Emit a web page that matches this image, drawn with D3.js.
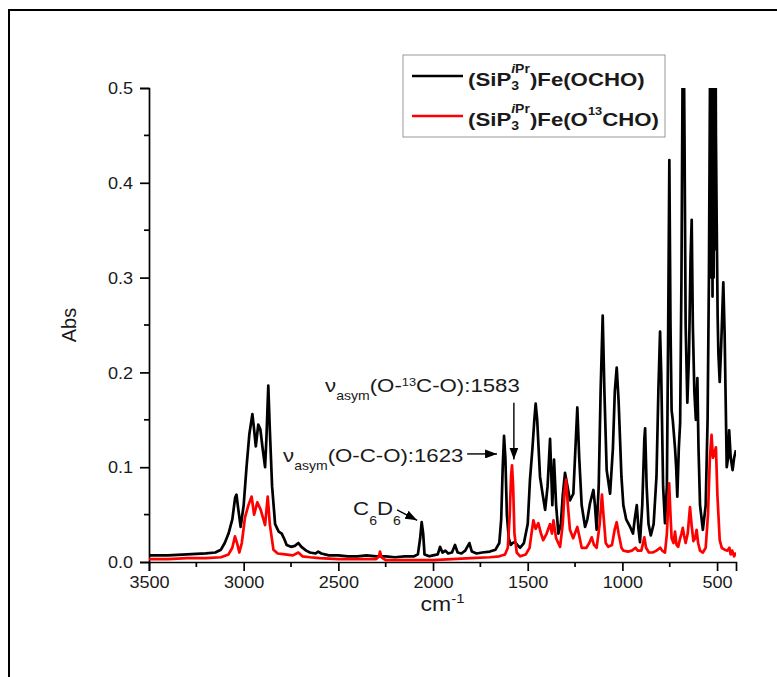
<!DOCTYPE html>
<html>
<head>
<meta charset="utf-8">
<script src="https://cdn.jsdelivr.net/npm/d3@7"></script>
<style>
  body { margin: 0; background: #fff; }
  svg text { font-family: Arial, "Liberation Sans", sans-serif; fill: #1a1a1a; }
</style>
</head>
<body>
<svg id="chart" width="777" height="677"></svg>
<script>
// tick values
var wnTicks = [3500, 3000, 2500, 2000, 1500, 1000, 500];
var wnMinor = [3250, 2750, 2250, 1750, 1250, 750];
var absTicks = [0, 0.1, 0.2, 0.3, 0.4, 0.5];
var absMinor = [0.05, 0.15, 0.25, 0.35, 0.45];

// (SiP3iPr)Fe(OCHO): [wavenumber, absorbance]
var ochoSpectrum = [
  [3500,0.007],[3400,0.007],[3300,0.008],[3200,0.009],[3150,0.010],[3120,0.013],[3100,0.020],
  [3080,0.030],[3060,0.045],[3045,0.068],[3038,0.071],[3030,0.058],[3016,0.037],[3000,0.060],
  [2985,0.100],[2970,0.135],[2954,0.156],[2945,0.140],[2936,0.122],[2923,0.145],[2912,0.140],
  [2900,0.120],[2887,0.100],[2880,0.130],[2870,0.186],[2862,0.140],[2850,0.080],[2834,0.040],
  [2815,0.032],[2799,0.030],[2785,0.024],[2773,0.018],[2750,0.016],[2730,0.017],[2711,0.020],
  [2695,0.016],[2670,0.012],[2650,0.010],[2620,0.009],[2607,0.011],[2590,0.009],[2550,0.007],
  [2500,0.007],[2450,0.006],[2400,0.006],[2350,0.007],[2300,0.006],[2250,0.006],[2200,0.005],
  [2150,0.006],[2100,0.006],[2080,0.008],[2068,0.025],[2060,0.042],[2052,0.030],[2045,0.008],
  [2020,0.006],[2000,0.007],[1975,0.008],[1963,0.016],[1950,0.010],[1935,0.012],[1920,0.009],
  [1900,0.010],[1884,0.018],[1870,0.010],[1850,0.009],[1830,0.012],[1808,0.020],[1795,0.011],
  [1770,0.009],[1740,0.010],[1700,0.011],[1670,0.013],[1650,0.020],[1640,0.045],[1632,0.100],
  [1625,0.133],[1618,0.110],[1610,0.050],[1600,0.025],[1590,0.018],[1580,0.020],[1567,0.021],
  [1555,0.018],[1540,0.015],[1520,0.020],[1500,0.040],[1488,0.087],[1475,0.120],[1465,0.150],
  [1458,0.167],[1450,0.150],[1435,0.090],[1420,0.070],[1408,0.055],[1395,0.080],[1382,0.130],
  [1375,0.090],[1370,0.060],[1361,0.108],[1350,0.060],[1338,0.030],[1325,0.040],[1315,0.070],
  [1303,0.094],[1290,0.080],[1277,0.065],[1259,0.072],[1248,0.120],[1238,0.163],[1228,0.110],
  [1215,0.060],[1197,0.037],[1185,0.045],[1171,0.062],[1153,0.076],[1145,0.060],[1136,0.034],
  [1125,0.080],[1115,0.180],[1104,0.260],[1095,0.180],[1083,0.097],[1065,0.072],[1050,0.120],
  [1040,0.180],[1030,0.205],[1020,0.170],[1005,0.090],[995,0.060],[980,0.045],[959,0.037],
  [944,0.030],[935,0.045],[924,0.060],[915,0.035],[907,0.021],[895,0.060],[884,0.130],
  [880,0.141],[872,0.080],[862,0.040],[850,0.028],[835,0.040],[820,0.090],[810,0.180],
  [801,0.243],[795,0.200],[785,0.080],[775,0.041],[765,0.080],[758,0.250],[752,0.424],
  [746,0.250],[740,0.160],[734,0.150],[722,0.120],[716,0.100],[710,0.069],[702,0.120],
  [695,0.147],[688,0.300],[682,0.520],[678,0.600],[672,0.450],[666,0.250],[657,0.168],
  [648,0.220],[640,0.320],[634,0.361],[628,0.250],[620,0.180],[612,0.150],[604,0.194],
  [598,0.120],[590,0.060],[575,0.034],[560,0.060],[550,0.150],[543,0.300],[537,0.520],
  [533,0.620],[530,0.300],[527,0.600],[524,0.280],[521,0.620],[518,0.300],[515,0.620],
  [512,0.330],[509,0.600],[506,0.450],[502,0.360],[497,0.260],[493,0.220],[486,0.190],
  [478,0.230],[467,0.295],[460,0.240],[449,0.100],[442,0.110],[436,0.139],[428,0.110],
  [418,0.097],[410,0.110],[400,0.118]
];

// (SiP3iPr)Fe(O13CHO)
var o13Spectrum = [
  [3500,0.003],[3400,0.003],[3300,0.004],[3200,0.004],[3120,0.005],[3080,0.008],[3060,0.015],
  [3046,0.027],[3035,0.020],[3023,0.010],[3010,0.020],[2993,0.047],[2975,0.060],[2958,0.069],
  [2945,0.050],[2928,0.063],[2910,0.055],[2887,0.039],[2873,0.069],[2862,0.040],[2843,0.013],
  [2820,0.009],[2782,0.008],[2740,0.007],[2711,0.010],[2690,0.006],[2650,0.005],[2600,0.004],
  [2500,0.003],[2400,0.003],[2300,0.003],[2285,0.006],[2280,0.011],[2272,0.005],[2250,0.002],
  [2150,0.002],[2050,0.002],[2000,0.002],[1900,0.003],[1800,0.004],[1700,0.005],[1650,0.006],
  [1620,0.008],[1605,0.015],[1595,0.050],[1588,0.090],[1583,0.102],[1577,0.080],[1570,0.030],
  [1558,0.010],[1540,0.006],[1510,0.008],[1490,0.015],[1480,0.030],[1470,0.044],[1458,0.035],
  [1444,0.041],[1430,0.030],[1418,0.023],[1400,0.030],[1382,0.040],[1372,0.030],[1364,0.044],
  [1350,0.025],[1329,0.016],[1315,0.040],[1305,0.075],[1297,0.087],[1288,0.060],[1277,0.034],
  [1260,0.025],[1238,0.037],[1225,0.025],[1215,0.015],[1190,0.015],[1175,0.020],[1162,0.026],
  [1150,0.018],[1136,0.015],[1120,0.040],[1108,0.071],[1100,0.050],[1088,0.020],[1075,0.016],
  [1055,0.018],[1040,0.035],[1030,0.042],[1020,0.030],[1005,0.015],[995,0.012],[970,0.011],
  [950,0.012],[930,0.015],[920,0.012],[900,0.012],[884,0.026],[875,0.015],[860,0.010],
  [840,0.010],[820,0.012],[800,0.015],[790,0.012],[775,0.010],[765,0.030],[758,0.060],
  [753,0.083],[746,0.050],[740,0.025],[730,0.020],[722,0.032],[714,0.018],[705,0.016],
  [695,0.025],[688,0.030],[681,0.036],[674,0.028],[666,0.020],[655,0.030],[643,0.058],
  [635,0.040],[625,0.022],[616,0.025],[608,0.034],[600,0.020],[590,0.012],[575,0.010],
  [560,0.015],[548,0.050],[538,0.110],[529,0.134],[522,0.110],[514,0.115],[506,0.121],
  [498,0.070],[486,0.023],[475,0.015],[460,0.013],[445,0.012],[435,0.015],[428,0.008],
  [420,0.012],[410,0.006],[400,0.010]
];

var SX = 1.17;   // text in the figure is stretched sideways
var svg = d3.select("#chart");

var x = d3.scaleLinear().domain([3500, 400]).range([149, 736]);
var y = d3.scaleLinear().domain([0, 0.5]).range([562, 88]);

// outer frame (runs off the right and bottom)
svg.append("rect")
  .attr("x", 9).attr("y", 10).attr("width", 820).attr("height", 720)
  .attr("fill", "none").attr("stroke", "#000").attr("stroke-width", 2);

// stretched rich text: parts = {t | segs, size, dy, stack}
function rich(parent, px, py, parts, bold) {
  var g = parent.append("g").attr("transform", "translate(" + px + "," + py + ") scale(" + SX + ",1)");
  var cx = 0, held = 0;
  parts.forEach(function(p) {
    var t = g.append("text").attr("x", cx).attr("y", p.dy || 0)
      .style("font-size", p.size + "px")
      .style("font-weight", bold ? "bold" : "normal");
    (p.segs || [[p.t, false]]).forEach(function(s) {
      t.append("tspan").text(s[0]).style("font-style", s[1] ? "italic" : "normal");
    });
    var w = t.node().getComputedTextLength();
    if (p.stack) held = Math.max(held, w);
    else { cx += Math.max(held, w); held = 0; }
  });
  return g;
}

// axes
var xAxis = svg.append("g").attr("transform", "translate(0," + y(0) + ")")
  .call(d3.axisBottom(x).tickValues(wnTicks).tickSize(9).tickPadding(6).tickFormat(d3.format("d")));
var yAxis = svg.append("g").attr("transform", "translate(" + x(3500) + ",0)")
  .call(d3.axisLeft(y).tickValues(absTicks).tickSize(9).tickPadding(7).tickFormat(d3.format(".1f")));

[xAxis, yAxis].forEach(function(a) {
  a.select(".domain").attr("stroke", "#000").attr("stroke-width", 1.7);
  a.selectAll(".tick line").attr("stroke", "#000").attr("stroke-width", 1.7);
  a.selectAll(".tick text").attr("font-family", null).style("font-size", "16px").attr("fill", "#1a1a1a");
});
xAxis.selectAll(".tick text").attr("transform", "scale(1.13,1)");
yAxis.selectAll(".tick text").attr("transform", "scale(1.13,1)").attr("x", -16 / 1.13).attr("dy", "0.36em");

svg.append("g").selectAll("line").data(wnMinor).join("line")
  .attr("x1", x).attr("x2", x).attr("y1", y(0)).attr("y2", y(0) + 5)
  .attr("stroke", "#000").attr("stroke-width", 1.7);
svg.append("g").selectAll("line").data(absMinor).join("line")
  .attr("y1", y).attr("y2", y).attr("x1", x(3500)).attr("x2", x(3500) - 5)
  .attr("stroke", "#000").attr("stroke-width", 1.7);

// axis titles
svg.append("text")
  .attr("transform", "translate(76," + y(0.25) + ") rotate(-90)")
  .attr("text-anchor", "middle").style("font-size", "20px").text("Abs");
var xt = svg.append("text").attr("text-anchor", "middle")
  .attr("transform", "translate(" + x(1950) + ",611) scale(1.15,1)")
  .style("font-size", "20px");
xt.append("tspan").text("cm");
xt.append("tspan").attr("dy", -8).style("font-size", "13px").text("-1");

// spectra
svg.append("clipPath").attr("id", "plotClip").append("rect")
  .attr("x", x(3500)).attr("y", y(0.5)).attr("width", x(400) - x(3500)).attr("height", y(0) - y(0.5) + 2);

var line = d3.line().x(function(d) { return x(d[0]); }).y(function(d) { return y(d[1]); });
var series = [
  { name: "ocho", data: ochoSpectrum, color: "#000000" },
  { name: "o13", data: o13Spectrum, color: "#ff0000" }
];
svg.append("g").attr("clip-path", "url(#plotClip)")
  .selectAll("path").data(series).join("path")
  .attr("d", function(d) { return line(d.data); })
  .attr("fill", "none").attr("stroke", function(d) { return d.color; })
  .attr("stroke-width", 2.7).attr("stroke-linejoin", "round");

// legend
var lg = svg.append("g");
lg.append("rect").attr("x", 403).attr("y", 55).attr("width", 262).attr("height", 82)
  .attr("fill", "#fff").attr("stroke", "#999").attr("stroke-width", 1);
var legendRows = [
  { color: "#000", base: 86, tail: [{ t: ")Fe(OCHO)", size: 19 }] },
  { color: "#ff0000", base: 126, tail: [{ t: ")Fe(O", size: 19 }, { t: "13", size: 11, dy: -11 }, { t: "CHO)", size: 19 }] }
];
legendRows.forEach(function(r) {
  lg.append("line").attr("x1", 412).attr("x2", 463).attr("y1", r.base - 10).attr("y2", r.base - 10)
    .attr("stroke", r.color).attr("stroke-width", 2.7);
  rich(lg, 468, r.base, [
    { t: "(SiP", size: 19 },
    { segs: [["i", true], ["Pr", false]], size: 12, dy: -13, stack: true },
    { t: "3", size: 12, dy: 4 }
  ].concat(r.tail), true);
});

// annotations
var ann = svg.append("g");
svg.append("defs").append("marker").attr("id", "head")
  .attr("viewBox", "0 0 12 9").attr("refX", 12).attr("refY", 4.5)
  .attr("markerWidth", 12).attr("markerHeight", 9).attr("markerUnits", "userSpaceOnUse")
  .attr("orient", "auto")
  .append("path").attr("d", "M0,0 L12,4.5 L0,9 z").attr("fill", "#000");

rich(ann, x(2570), y(0.179), [
  { t: "\u03bd", size: 19 }, { t: "asym", size: 12, dy: 8 }, { t: "(O-", size: 19 },
  { t: "13", size: 11, dy: -6 }, { t: "C-O):1583", size: 19 }
], false);
rich(ann, x(2792), y(0.105), [
  { t: "\u03bd", size: 19 }, { t: "asym", size: 12, dy: 8 }, { t: "(O-C-O):1623", size: 19 }
], false);
rich(ann, x(2422), y(0.050), [
  { t: "C", size: 19 }, { t: "6", size: 12, dy: 10 }, { t: "D", size: 19 }, { t: "6", size: 12, dy: 10 }
], false);

var arrows = [
  { from: [1573, 0.168], to: [1573, 0.108] },
  { from: [1820, 0.114], to: [1662, 0.114] },
  { from: [2190, 0.055], to: [2084, 0.044] }
];
ann.selectAll("line").data(arrows).join("line")
  .attr("x1", function(d) { return x(d.from[0]); }).attr("y1", function(d) { return y(d.from[1]); })
  .attr("x2", function(d) { return x(d.to[0]); }).attr("y2", function(d) { return y(d.to[1]); })
  .attr("stroke", "#000").attr("stroke-width", 1.4).attr("marker-end", "url(#head)");
</script>
</body>
</html>
